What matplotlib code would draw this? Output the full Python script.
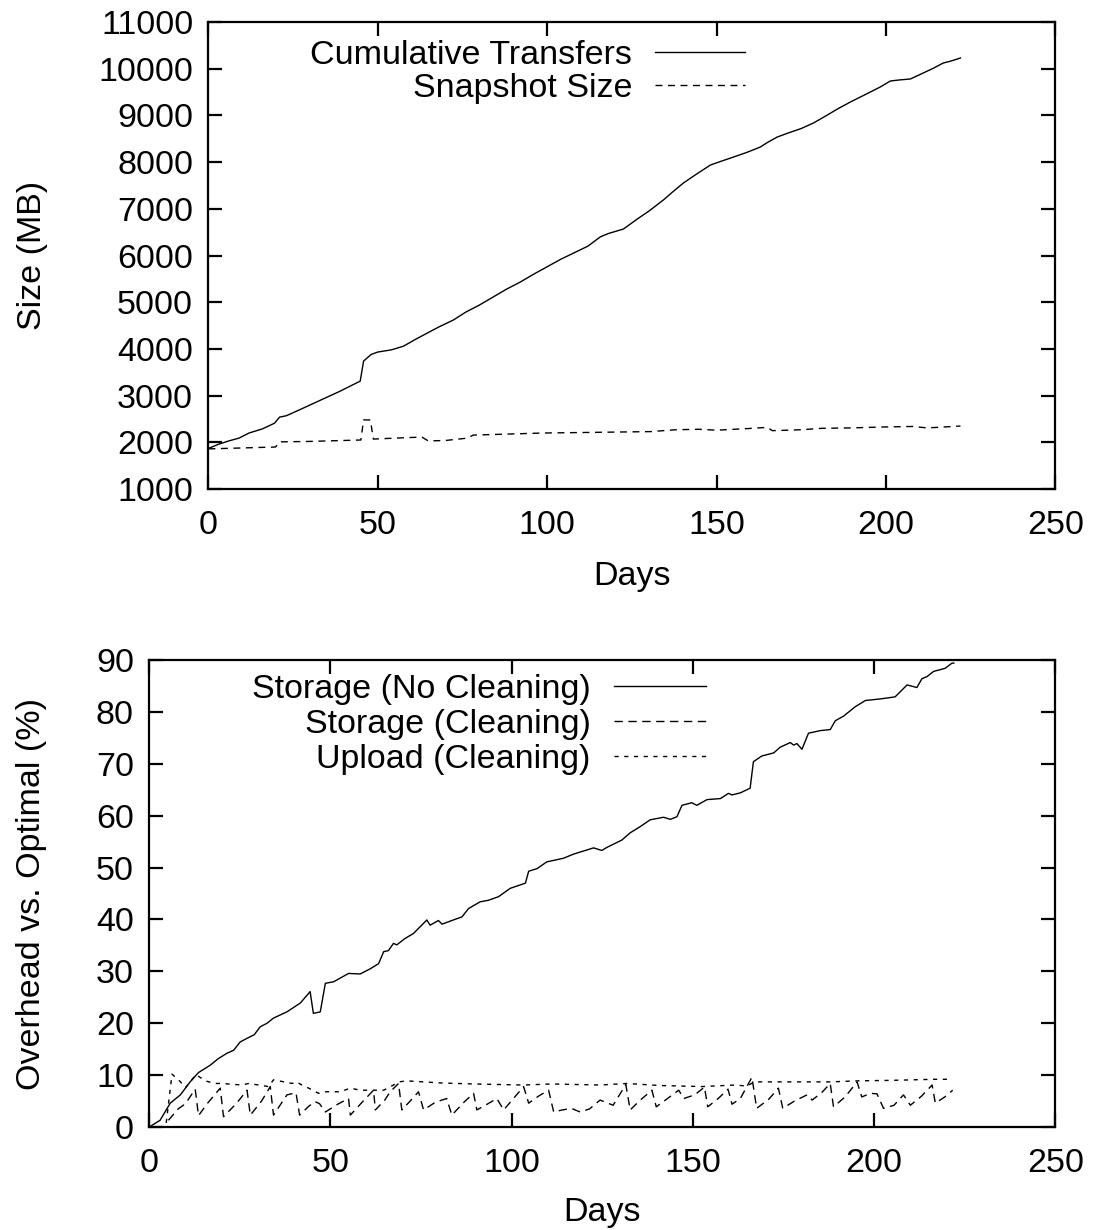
import numpy as np
import matplotlib
matplotlib.use("Agg")
import matplotlib.pyplot as plt

plt.rcParams['font.family'] = ['Liberation Sans', 'DejaVu Sans']
plt.rcParams['font.size'] = 24.5

# ---- top panel: transfers vs snapshot size (MB) ----
transfer_days = [0, 3, 6, 9, 12, 16, 19.5, 21, 23, 27, 30, 33, 36, 39, 42, 44.8, 45.8, 48, 50,
                 54, 57.6, 61, 64.6, 68, 72.3, 76, 80, 84, 88, 92, 96, 100, 104, 108, 112,
                 115.7, 118, 122.5, 126.6, 130, 134.3, 137, 140.2, 144, 148.2, 151, 155, 159,
                 162.9, 165, 167.9, 171, 175, 178.6, 182.7, 186, 189.5, 194, 198.3, 201.3,
                 204, 207.2, 211, 214, 216.9, 219, 222]
transfer_mb = [1870, 1960, 2030, 2090, 2200, 2290, 2410, 2540, 2570, 2700, 2800, 2900, 3000,
               3100, 3210, 3310, 3740, 3880, 3934, 3980, 4060, 4200, 4340, 4470, 4619, 4790,
               4940, 5110, 5280, 5430, 5600, 5760, 5920, 6060, 6200, 6400, 6470, 6567, 6782,
               6950, 7189, 7360, 7552, 7740, 7938, 8010, 8109, 8210, 8323, 8420, 8537, 8620,
               8720, 8837, 9009, 9150, 9287, 9450, 9608, 9737, 9760, 9780, 9908, 10010,
               10122, 10160, 10229]

snapshot_days = [0, 10, 19.8, 21, 30, 40, 45, 45.8, 47.8, 48.7, 55, 63, 64.9, 70, 76.4, 78.2,
                 85, 98.9, 110, 130.5, 138, 145, 150, 158, 165, 166.5, 175, 181, 190, 200,
                 208, 212, 215, 222]
snapshot_mb = [1860, 1880, 1900, 2010, 2020, 2040, 2050, 2480, 2480, 2070, 2090, 2113, 2030,
               2040, 2090, 2156, 2170, 2200, 2210, 2230, 2270, 2280, 2260, 2290, 2320, 2250,
               2270, 2300, 2310, 2330, 2340, 2310, 2320, 2350]

# ---- bottom panel: overhead vs optimal (%) ----
nocl_days = [0, 3, 5.8, 8.6, 11.3, 13.6, 16.8, 19.1, 21.4, 23.3, 25.1, 27, 29, 30.6, 32.5,
             34.3, 38, 41.7, 44.4, 45.3, 47.2, 48.6, 50.9, 55, 58.2, 61, 63.3, 64.7, 66,
             67.4, 68.3, 70.5, 72.9, 76.6, 77.5, 79.8, 80.8, 83.5, 86.3, 88.1, 91.3, 93.6,
             96.4, 99.6, 103.8, 104.7, 107, 109.7, 114.3, 117.1, 122.6, 124.9, 126.3, 130.4,
             132.7, 135.5, 138.2, 141.9, 143.8, 145.6, 147, 149.7, 151.1, 153.9, 157.6,
             159.8, 160.8, 163.1, 165.8, 166.7, 169, 172.3, 174.1, 176.9, 177.8, 178.7,
             180.1, 181.9, 185.2, 187.9, 189.3, 191.6, 194.8, 197.6, 201.7, 205.8, 209.1,
             211.8, 213.2, 214.6, 216.4, 219.6, 221.5, 222]
nocl_pct = [0, 1.3, 4.6, 6.2, 8.7, 10.5, 11.9, 13.2, 14.2, 14.8, 16.4, 17.1, 17.8, 19.3, 20.0,
            21.0, 22.2, 23.9, 26.1, 21.9, 22.2, 27.7, 28.0, 29.6, 29.5, 30.5, 31.5, 33.8,
            34.0, 35.4, 35.1, 36.3, 37.3, 39.9, 38.9, 39.8, 39.1, 39.8, 40.5, 42.1, 43.4,
            43.7, 44.4, 46.0, 47.0, 49.3, 49.8, 51.1, 51.8, 52.6, 53.8, 53.3, 53.9, 55.3,
            56.7, 57.9, 59.2, 59.7, 59.3, 59.8, 62.0, 62.5, 62.0, 63.1, 63.3, 64.3, 64.0,
            64.4, 65.3, 70.4, 71.5, 72.1, 73.2, 74.1, 73.6, 73.9, 72.8, 75.9, 76.4, 76.6,
            78.3, 79.2, 81.0, 82.2, 82.5, 82.9, 85.2, 84.7, 86.4, 86.8, 87.8, 88.4, 89.4, 89.4]

clean_days = [5.3, 8, 10, 12.7, 13.6, 16, 19.6, 20.5, 24, 27, 27.9, 31, 33.4, 34.3, 38, 40.5,
              41.5, 44, 45.8, 47, 48.6, 52, 55, 55.5, 58.5, 61.9, 62.4, 65, 66.5, 68.8, 69.7,
              72, 74.3, 75.7, 79, 82.1, 83.5, 87, 89.5, 90.4, 93, 95.9, 97.8, 100.5, 103.3,
              104.7, 107.5, 110.2, 111.6, 114, 116.5, 118.9, 121.5, 124.4, 128, 131.5, 132.7,
              135.5, 138.7, 139.9, 143, 146.1, 147.5, 150.5, 153.2, 154.1, 157, 159.7, 160.8,
              163.1, 166.3, 167.6, 171, 173.6, 174.8, 178, 181.5, 182.9, 185.5, 187.9, 188.8,
              192, 195.3, 196.6, 199, 200.8, 202.6, 205.5, 208.1, 210, 213, 216, 216.9,
              219.5, 221.7]
clean_pct = [1.3, 3.5, 4.5, 7.3, 2.2, 4.5, 7.5, 2.0, 4.5, 7.1, 2.3, 5.0, 7.8, 2.3, 6.2, 6.6,
             2.3, 4.0, 4.9, 4.5, 2.9, 4.4, 5.5, 2.3, 4.6, 7.1, 3.3, 5.2, 6.8, 8.4, 3.3, 5.0,
             6.8, 3.3, 4.8, 5.5, 2.3, 4.9, 6.5, 3.3, 4.3, 5.5, 3.3, 5.5, 7.8, 4.6, 6.0, 7.1,
             2.9, 3.3, 3.6, 2.9, 3.5, 5.2, 4.2, 8.2, 3.3, 5.2, 7.1, 3.9, 5.5, 7.1, 5.5, 6.2,
             7.7, 3.9, 5.5, 7.3, 4.4, 5.5, 9.6, 3.6, 5.4, 7.5, 3.6, 5.0, 6.2, 5.2, 6.6, 8.4,
             3.9, 5.8, 8.7, 5.8, 6.5, 6.4, 3.6, 4.2, 6.2, 4.2, 5.9, 8.1, 4.6, 5.8, 7.1]

upload_days = [4.7, 6.3, 8.5, 10, 12.9, 15.5, 18, 20, 25.6, 27.4, 32.9, 34.3, 39.4, 40.7, 42.1,
               44, 46.7, 48.6, 52.7, 55.5, 58.2, 64.7, 67.4, 68.8, 71.1, 80.3, 89.5, 103.3,
               111, 124.4, 131.8, 141, 152.5, 161.7, 164.9, 166.7, 167.6, 187.9, 195.3, 205,
               216.4, 221]
upload_pct = [0.8, 10.2, 8.8, 7.6, 10.1, 8.9, 8.4, 8.4, 8.1, 8.4, 7.8, 9.1, 8.4, 8.7, 8.1,
              7.5, 6.5, 6.8, 6.8, 7.5, 7.1, 7.1, 8.1, 8.7, 8.9, 8.5, 8.3, 8.1, 8.3, 8.1, 8.4,
              8.0, 7.8, 8.1, 7.9, 8.6, 8.7, 8.7, 8.9, 9.0, 9.2, 9.2]


def style_axes(ax):
    for s in ax.spines.values():
        s.set_linewidth(1.6)
    ax.tick_params(direction='in', length=10, width=1.6, top=True, right=True,
                   labelsize=24.5)
    ax.tick_params(axis='x', pad=15)
    ax.tick_params(axis='y', pad=11)


fig = plt.figure(figsize=(10.97, 12.30), dpi=100)
ax1 = fig.add_axes([0.190, 0.6024, 0.772, 0.3797])
ax2 = fig.add_axes([0.136, 0.0837, 0.826, 0.3797])

ax1.plot(transfer_days, transfer_mb, color='black', lw=1.0, label='Cumulative Transfers')
ax1.plot(snapshot_days, snapshot_mb, color='black', lw=1.0, dashes=(5, 4),
         label='Snapshot Size')
ax1.set_xlim(0, 250)
ax1.set_ylim(1000, 11000)
ax1.set_xticks(np.arange(0, 251, 50))
ax1.set_yticks(np.arange(1000, 11001, 1000))
ax1.set_xlabel('Days')
ax1.set_ylabel('Size (MB)')
ax1.xaxis.set_label_coords(0.5, -0.155)
ax1.yaxis.set_label_coords(-0.190, 0.5)
style_axes(ax1)
ax1.legend(loc='upper right', bbox_to_anchor=(0.634, 0.962), frameon=False,
           markerfirst=False, handlelength=2.65, handletextpad=0.68, borderpad=0,
           borderaxespad=0, labelspacing=0.07, fontsize=24.5)

ax2.plot(nocl_days, nocl_pct, color='black', lw=1.0, label='Storage (No Cleaning)')
ax2.plot(clean_days, clean_pct, color='black', lw=1.0, dashes=(6, 4),
         label='Storage (Cleaning)')
ax2.plot(upload_days, upload_pct, color='black', lw=1.0, dashes=(3, 4),
         label='Upload (Cleaning)')
ax2.set_xlim(0, 250)
ax2.set_ylim(0, 90)
ax2.set_xticks(np.arange(0, 251, 50))
ax2.set_yticks(np.arange(0, 91, 10))
ax2.set_xlabel('Days')
ax2.set_ylabel('Overhead vs. Optimal (%)')
ax2.xaxis.set_label_coords(0.5, -0.150)
ax2.yaxis.set_label_coords(-0.113, 0.5)
style_axes(ax2)
ax2.legend(loc='upper right', bbox_to_anchor=(0.614, 0.971), frameon=False,
           markerfirst=False, handlelength=2.7, handletextpad=0.68, borderpad=0,
           borderaxespad=0, labelspacing=0.12, fontsize=24.5)

fig.savefig('out.png', dpi=100)
